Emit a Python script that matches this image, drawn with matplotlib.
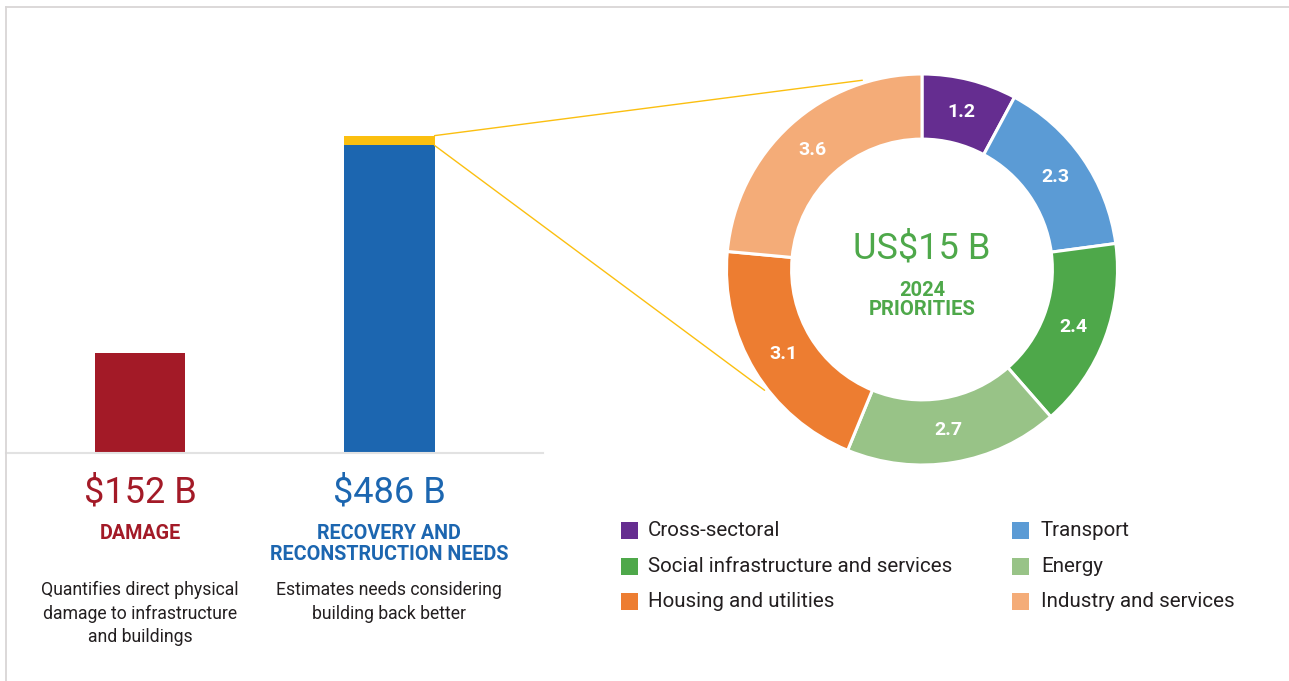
import matplotlib
matplotlib.use("Agg")
import matplotlib.pyplot as plt
from matplotlib.patches import Rectangle, ConnectionPatch
from matplotlib.lines import Line2D
import numpy as np

# ---------------- data ----------------
bar_labels = ["DAMAGE", "RECOVERY AND\nRECONSTRUCTION NEEDS"]
bar_values = [152, 486]          # US$ billions
bar_value_text = ["$152 B", "$486 B"]
bar_desc = ["Quantifies direct physical\ndamage to infrastructure\nand buildings",
            "Estimates needs considering\nbuilding back better"]
priorities_total = 15            # US$ billions, highlighted slice of the needs bar

sectors = ["Cross-sectoral", "Transport", "Social infrastructure and services",
           "Energy", "Housing and utilities", "Industry and services"]
sector_values = [1.2, 2.3, 2.4, 2.7, 3.1, 3.6]
center_title = "US$15 B"
center_sub = "2024\nPRIORITIES"

# ---------------- style ----------------
W, H = 1289, 681
FONT = ["Roboto", "DejaVu Sans"]
RED = "#A31A27"
BLUE = "#1C66B0"
YELLOW = "#FBBF10"
GREEN_TXT = "#4EA84A"
DARK = "#231F20"
sector_colors = ["#652D90", "#5B9BD5", "#4EA84A", "#98C387", "#ED7D31", "#F4AC78"]

plt.rcParams["font.family"] = FONT

def fx(px):
    return px / W

def fy(py):
    return 1 - py / H

fig = plt.figure(figsize=(W / 100, H / 100), dpi=100)
fig.patch.set_facecolor("white")

# frame lines (top and left)
fig.add_artist(Line2D([fx(6), fx(W)], [fy(7), fy(7)], color="#d9d6d6", lw=1.3))
fig.add_artist(Line2D([fx(6), fx(6)], [fy(7), fy(H)], color="#d9d6d6", lw=1.3))

# ---------------- bar panel ----------------
base_py = 452.5
ymax = 500
px_per_unit = 0.652
ax_bar = fig.add_axes([fx(6), fy(base_py), (543 - 6) / W, ymax * px_per_unit / H])
ax_bar.set_ylim(0, ymax)
ax_bar.set_xlim(-0.538, 1.618)
bw = 0.365
ax_bar.bar(0, bar_values[0], width=bw, color=RED)
ax_bar.bar(1, bar_values[1] - priorities_total, width=bw, color=BLUE)
ax_bar.bar(1, priorities_total, bottom=bar_values[1] - priorities_total, width=bw, color=YELLOW)
for s in ["top", "left", "right"]:
    ax_bar.spines[s].set_visible(False)
ax_bar.spines["bottom"].set_color("#e2e2e2")
ax_bar.spines["bottom"].set_linewidth(1.5)
ax_bar.set_xticks([])
ax_bar.set_yticks([])
ax_bar.patch.set_alpha(0)

bar_cx = [140, 389]
bar_cols = [RED, BLUE]
for i in range(2):
    fig.text(fx(bar_cx[i]), fy(492), bar_value_text[i], color=bar_cols[i],
             fontsize=26, ha="center", va="center", family=FONT)
    fig.text(fx(bar_cx[i]), fy(524), bar_labels[i], color=bar_cols[i],
             fontsize=14.2, fontweight="bold", ha="center", va="top",
             family=FONT, linespacing=1.1)
    fig.text(fx(bar_cx[i]), fy(581), bar_desc[i], color=DARK,
             fontsize=12.7, ha="center", va="top", family=FONT, linespacing=1.4)

# ---------------- donut ----------------
cx, cy, R = 922, 269.5, 195.5
half = 215
lim = half / R
ax_d = fig.add_axes([fx(cx - half), fy(cy + half), 2 * half / W, 2 * half / H])
wedges, _ = ax_d.pie(sector_values, colors=sector_colors, startangle=90,
                     counterclock=False, radius=1,
                     wedgeprops=dict(width=0.333, edgecolor="white", linewidth=2.2))
ax_d.set_xlim(-lim, lim)
ax_d.set_ylim(-lim, lim)
ax_d.set_aspect("equal")
ax_d.axis("off")
for w, v in zip(wedges, sector_values):
    ang = np.deg2rad((w.theta1 + w.theta2) / 2)
    r = 0.83
    ax_d.text(r * np.cos(ang), r * np.sin(ang), f"{v:.1f}", color="white",
              fontsize=14, fontweight="bold", ha="center", va="center", family=FONT)

ax_d.text(0, (cy - 248) / R, center_title, color=GREEN_TXT, fontsize=26,
          ha="center", va="center", family=FONT)
ax_d.text(0, (cy - 300) / R, center_sub, color=GREEN_TXT, fontsize=14.5,
          fontweight="bold", ha="center", va="center", family=FONT, linespacing=1.05)

# connector lines from the highlighted slice to the donut
end_angles = [107.5, 217.5]
end_r = 1.015
bar_right = 1 + bw / 2
starts = [bar_values[1], bar_values[1] - priorities_total]
for yv, a in zip(starts, end_angles):
    t = np.deg2rad(a)
    con = ConnectionPatch(xyA=(bar_right, yv), coordsA=ax_bar.transData,
                          xyB=(end_r * np.cos(t), end_r * np.sin(t)), coordsB=ax_d.transData,
                          color=YELLOW, lw=1.0)
    fig.add_artist(con)

# ---------------- legend ----------------
col_sq_x = [621, 1012]
col_tx_x = [648, 1041]
row_y = [530.5, 566, 601.5]
sq = 17
for i, (name, col) in enumerate(zip(sectors, sector_colors)):
    c = i % 2
    r = i // 2
    fig.add_artist(Rectangle((fx(col_sq_x[c]), fy(row_y[r] + sq / 2)), sq / W, sq / H,
                             facecolor=col, edgecolor="none", transform=fig.transFigure))
    fig.text(fx(col_tx_x[c]), fy(row_y[r]), name, color=DARK, fontsize=14.8,
             ha="left", va="center", family=FONT)

fig.savefig("out.png", dpi=100, facecolor="white")
